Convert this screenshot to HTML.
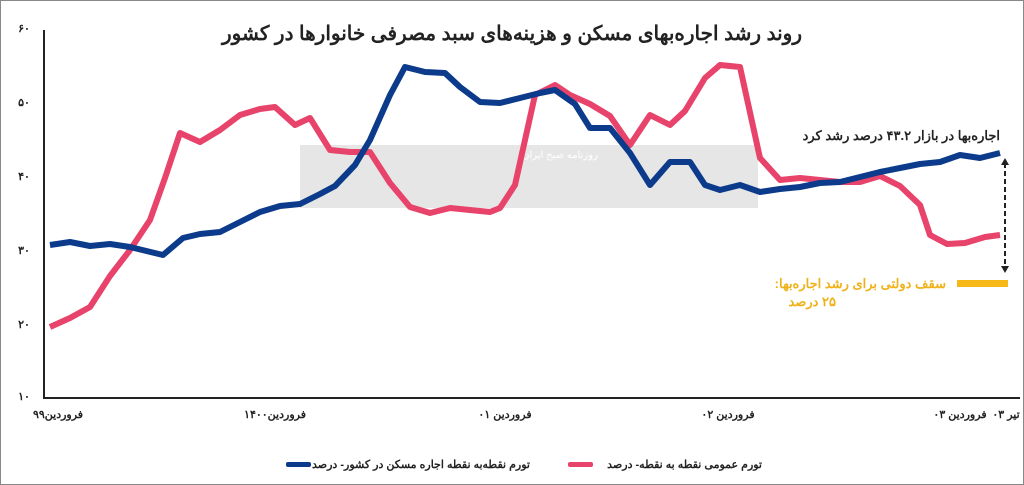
<!DOCTYPE html>
<html><head><meta charset="utf-8"><style>
html,body{margin:0;padding:0;background:#fff}
svg{display:block}
text{font-family:"Liberation Sans","Noto Sans CJK SC",sans-serif}
</style></head><body>
<svg width="1024" height="485" viewBox="0 0 1024 485" xmlns="http://www.w3.org/2000/svg">
<rect x="0.5" y="0.5" width="1023" height="484" fill="#fff" stroke="#888"/>
<rect x="300" y="145" width="458" height="63" fill="#e6e6e6"/>
<text x="560" y="158" font-size="10" fill="#fff" text-anchor="middle" direction="rtl">روزنامه صبح ایران</text>
<text x="512" y="40" font-size="20" font-weight="bold" text-anchor="middle" direction="rtl" fill="#222">روند رشد اجاره‌بهای مسکن و هزینه‌های سبد مصرفی خانوارها در کشور</text>
<g font-size="11" font-weight="bold" fill="#222" text-anchor="middle">
<text x="24" y="32">۶۰</text><text x="24" y="106">۵۰</text><text x="24" y="180">۴۰</text><text x="24" y="254">۳۰</text><text x="24" y="328">۲۰</text><text x="24" y="400">۱۰</text>
</g>
<line x1="44" y1="30" x2="44" y2="399" stroke="#222" stroke-width="2"/>
<line x1="43" y1="398" x2="1020" y2="398" stroke="#222" stroke-width="2"/>
<g font-size="11" font-weight="bold" fill="#222" text-anchor="middle">
<text x="58" y="418">فروردین۹۹</text><text x="275" y="418">فروردین۱۴۰۰</text><text x="505" y="418">فروردین ۰۱</text><text x="728" y="418">فروردین ۰۲</text><text x="960" y="418">فروردین ۰۳</text><text x="1006" y="418">تیر ۰۳</text>
</g>
<polyline fill="none" stroke="#e8436a" stroke-width="6" stroke-linejoin="round" points="50,327 70,318 90,307 110,276 130,250 150,220 165,178 180,133 200,142 220,130 240,115 260,109 275,107 295,125 310,118 330,150 350,152 370,152 390,183 410,207 430,213 450,208 470,210 490,212 500,208 515,185 535,95 555,85 570,95 590,104 610,116 630,145 650,115 670,125 685,111 705,78 720,65 740,67 760,158 780,180 800,178 820,180 840,182 860,182 880,176 900,186 920,205 930,235 947,244 965,243 985,237 1000,235"/>
<polyline fill="none" stroke="#0b3b8a" stroke-width="6" stroke-linejoin="round" points="50,245 70,242 90,246 110,244 130,247 163,255 183,238 200,234 220,232 240,222 260,212 280,206 300,204 320,194 335,186 355,165 370,140 390,95 405,67 425,72 445,73 460,87 480,102 500,103 520,98 540,93 555,90 575,104 590,128 610,128 630,153 650,185 670,162 690,162 705,185 720,190 740,185 760,192 780,189 800,187 820,183 840,182 860,177 880,172 900,168 920,164 940,162 960,155 980,158 1000,153"/>
<text x="1000" y="140" font-size="13" font-weight="bold" fill="#222" text-anchor="start" direction="rtl">اجاره‌بها در بازار ۴۳.۲ درصد رشد کرد</text>
<line x1="1005" y1="163" x2="1005" y2="268" stroke="#222" stroke-width="2" stroke-dasharray="5,3"/>
<polygon points="1001,165 1009,165 1005,158" fill="#222"/>
<polygon points="1001,266 1009,266 1005,273" fill="#222"/>
<rect x="957" y="280" width="51" height="7" fill="#f6b817"/>
<text x="946" y="288" font-size="13" font-weight="bold" fill="#f0b21a" text-anchor="start" direction="rtl">سقف دولتی برای رشد اجاره‌بها:</text>
<text x="836" y="306" font-size="13" font-weight="bold" fill="#f0b21a" text-anchor="start" direction="rtl">۲۵ درصد</text>
<rect x="286" y="462" width="25" height="5" rx="2" fill="#0b3b8a"/>
<text x="530" y="468" font-size="11" font-weight="bold" fill="#222" text-anchor="start" direction="rtl">تورم نقطه‌به نقطه اجاره مسکن در کشور- درصد</text>
<rect x="568" y="462" width="25" height="5" rx="2" fill="#e8436a"/>
<text x="762" y="468" font-size="11" font-weight="bold" fill="#222" text-anchor="start" direction="rtl">تورم عمومی نقطه به نقطه- درصد</text>
</svg>
</body></html>
